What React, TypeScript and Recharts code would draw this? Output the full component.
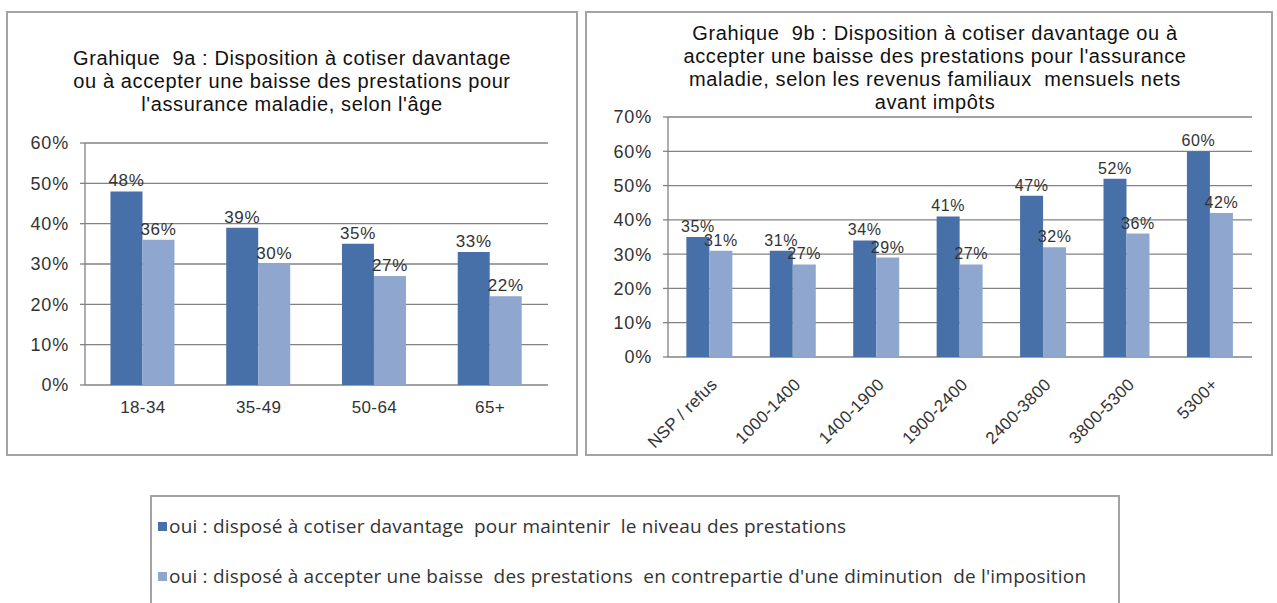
import React from "react";
import { Bar, BarChart, CartesianGrid, LabelList, XAxis, YAxis } from "recharts";

// Chart 9a: by age group
const ageGroups = ["18-34", "35-49", "50-64", "65+"];
const ageCotiser = [48, 39, 35, 33];
const ageBaisse = [36, 30, 27, 22];
const ageTicks = [0, 10, 20, 30, 40, 50, 60];

// Chart 9b: by monthly net household income
const incomeGroups = ["NSP / refus", "1000-1400", "1400-1900", "1900-2400", "2400-3800", "3800-5300", "5300+"];
const incomeCotiser = [35, 31, 34, 41, 47, 52, 60];
const incomeBaisse = [31, 27, 29, 27, 32, 36, 42];
const incomeTicks = [0, 10, 20, 30, 40, 50, 60, 70];

const seriesNames = [
    "oui : disposé à cotiser davantage  pour maintenir  le niveau des prestations",
    "oui : disposé à accepter une baisse  des prestations  en contrepartie d'une diminution  de l'imposition",
];

const titleA = [
    "Grahique  9a : Disposition à cotiser davantage",
    "ou à accepter une baisse des prestations pour",
    "l'assurance maladie, selon l'âge",
];
const titleB = [
    "Grahique  9b : Disposition à cotiser davantage ou à",
    "accepter une baisse des prestations pour l'assurance",
    "maladie, selon les revenus familiaux  mensuels nets",
    "avant impôts",
];

const DARK = "#4870a8";
const LIGHT = "#8fa7cf";
const GRID = "#828282";
const TEXT = "#333";
const FONT = "'Liberation Sans', Arial, sans-serif";

const ageData = ageGroups.map((g, i) => ({ group: g, cotiser: ageCotiser[i], baisse: ageBaisse[i] }));
const incomeData = incomeGroups.map((g, i) => ({ group: g, cotiser: incomeCotiser[i], baisse: incomeBaisse[i] }));

const pct = (v: number) => `${v}%`;

function RotatedTick(props: any) {
    const { x, y, payload } = props;
    return (
        <text
            x={x}
            y={y}
            dy="0.71em"
            transform={`rotate(-45 ${x} ${y})`}
            textAnchor="end"
            fontSize={17}
            letterSpacing={0.3}
            fill={TEXT}
            fontFamily={FONT}
        >
            {payload.value}
        </text>
    );
}

function Panel({ left, top, width, height }: { left: number; top: number; width: number; height: number }) {
    return (
        <div
            style={{
                position: "absolute",
                left,
                top,
                width,
                height,
                border: "2px solid #a3a3a3",
                boxSizing: "border-box",
            }}
        />
    );
}

function Title({ lines, left, top, width }: { lines: string[]; left: number; top: number; width: number }) {
    return (
        <div
            style={{
                position: "absolute",
                left,
                top,
                width,
                textAlign: "center",
                fontFamily: FONT,
                fontSize: 20,
                letterSpacing: 0.6,
                lineHeight: "23px",
                color: "#111",
                whiteSpace: "pre",
            }}
        >
            {lines.map((l) => (
                <div key={l}>{l}</div>
            ))}
        </div>
    );
}

function GroupedBars({
    data,
    ticks,
    width,
    height,
    margin,
    yWidth,
    xHeight,
    labelSize,
    rotated,
}: {
    data: any[];
    ticks: number[];
    width: number;
    height: number;
    margin: { top: number; right: number; bottom: number; left: number };
    yWidth: number;
    xHeight: number;
    labelSize: number;
    rotated?: boolean;
}) {
    const n = data.length;
    const edges = Array.from({ length: n + 1 }, (_, i) => i);
    return (
        <BarChart
            width={width}
            height={height}
            data={data}
            margin={margin}
            barCategoryGap="22%"
            barGap={0}
            style={{ fontFamily: FONT }}
        >
            <CartesianGrid vertical={false} stroke={GRID} strokeWidth={1.3} />
            {/* category boundary tick marks */}
            <XAxis
                xAxisId="edges"
                type="number"
                domain={[0, n]}
                ticks={edges}
                height={0}
                tick={false}
                tickSize={5}
                tickLine={{ stroke: GRID, strokeWidth: 1.3 }}
                axisLine={{ stroke: GRID, strokeWidth: 1.3 }}
                allowDecimals={false}
            />
            <XAxis
                dataKey="group"
                height={xHeight}
                tickLine={false}
                axisLine={false}
                tickSize={0}
                tickMargin={rotated ? 20 : 16}
                interval={0}
                tick={rotated ? <RotatedTick /> : { fontSize: 17, fill: TEXT, letterSpacing: 0.4 }}
            />
            <YAxis
                domain={[ticks[0], ticks[ticks.length - 1]]}
                ticks={ticks}
                width={yWidth}
                tickFormatter={pct}
                tickSize={5}
                tickMargin={11}
                tick={{ fontSize: 18, fill: TEXT, letterSpacing: 0.8 }}
                tickLine={{ stroke: GRID, strokeWidth: 1.3 }}
                axisLine={{ stroke: GRID, strokeWidth: 1.3 }}
                interval={0}
            />
            <Bar dataKey="cotiser" fill={DARK} isAnimationActive={false}>
                <LabelList
                    dataKey="cotiser"
                    position="top"
                    formatter={pct}
                    fontSize={labelSize}
                    letterSpacing={0.6}
                    fill={TEXT}
                    offset={5}
                />
            </Bar>
            <Bar dataKey="baisse" fill={LIGHT} isAnimationActive={false}>
                <LabelList
                    dataKey="baisse"
                    position="top"
                    formatter={pct}
                    fontSize={labelSize}
                    letterSpacing={0.6}
                    fill={TEXT}
                    offset={5}
                />
            </Bar>
        </BarChart>
    );
}

export default function App() {
    return (
        <div
            style={{
                position: "absolute",
                left: 0,
                top: 0,
                width: 1277,
                height: 603,
                background: "#fff",
                overflow: "hidden",
                fontFamily: FONT,
            }}
        >
            <Panel left={6} top={11} width={572} height={445} />
            <Panel left={585} top={11} width={688} height={445} />

            <Title lines={titleA} left={7} top={47} width={570} />
            <Title lines={titleB} left={600} top={22} width={670} />

            <div style={{ position: "absolute", left: 7, top: 12 }}>
                <GroupedBars
                    data={ageData}
                    ticks={ageTicks}
                    width={570}
                    height={443}
                    margin={{ top: 131, right: 29, bottom: 40, left: 0 }}
                    yWidth={78}
                    xHeight={30}
                    labelSize={17}
                />
            </div>
            <div style={{ position: "absolute", left: 586, top: 12 }}>
                <GroupedBars
                    data={incomeData}
                    ticks={incomeTicks}
                    width={685}
                    height={443}
                    margin={{ top: 105, right: 19, bottom: 8, left: 0 }}
                    yWidth={82}
                    xHeight={90}
                    labelSize={16}
                    rotated
                />
            </div>

            {/* shared legend box */}
            <div
                style={{
                    position: "absolute",
                    left: 150,
                    top: 495,
                    width: 970,
                    height: 130,
                    border: "2px solid #a3a3a3",
                    boxSizing: "border-box",
                    fontFamily: "'Open Sans', sans-serif",
                    fontSize: 19,
                    letterSpacing: 0.2,
                    color: "#333",
                }}
            >
                {seriesNames.map((name, i) => (
                    <div
                        key={name}
                        style={{
                            position: "absolute",
                            left: 6,
                            top: 16 + i * 50,
                            display: "flex",
                            alignItems: "center",
                            whiteSpace: "pre",
                        }}
                    >
                        <span
                            style={{
                                display: "inline-block",
                                width: 9,
                                height: 9,
                                background: i === 0 ? DARK : LIGHT,
                                marginRight: 2,
                            }}
                        />
                        {name}
                    </div>
                ))}
            </div>
        </div>
    );
}
